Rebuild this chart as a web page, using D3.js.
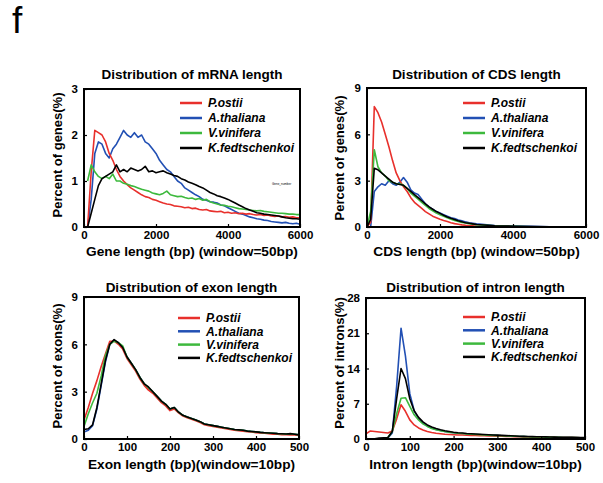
<!DOCTYPE html>
<html>
<head>
<meta charset="utf-8">
<script src="https://cdn.jsdelivr.net/npm/d3@7"></script>
<style>
  body { margin: 0; background: #fff; }
  svg { font-family: Arial, "Liberation Sans", sans-serif; }
</style>
</head>
<body>
<div id="chart"></div>
<script>
// species / legend
const species = ["P.ostii", "A.thaliana", "V.vinifera", "K.fedtschenkoi"];
const colors = ["#e8302c", "#2250b4", "#3db93d", "#000000"];

// mRNA length (window 50bp)
const mrnaX = [0,100,200,300,400,500,600,700,800,900,1000,1100,1200,1300,1400,1500,1600,1700,1800,1900,2000,
  2100,2200,2300,2400,2500,2600,2700,2800,2900,3000,3100,3200,3300,3400,3500,3600,3700,3800,3900,4000,
  4100,4200,4300,4400,4500,4600,4700,4800,4900,5000,5100,5200,5300,5400,5500,5600,5700,5800,5900,6000];
const mrnaPostii = [0,0,1.2,2.1,2.05,2.0,1.85,1.6,1.45,1.25,1.1,1.0,0.92,0.85,0.8,0.75,0.7,0.66,0.64,0.6,0.58,
  0.55,0.52,0.5,0.49,0.46,0.45,0.44,0.42,0.43,0.4,0.41,0.38,0.37,0.38,0.35,0.34,0.33,0.34,0.31,0.32,
  0.3,0.31,0.29,0.3,0.28,0.29,0.27,0.26,0.27,0.25,0.26,0.24,0.23,0.24,0.22,0.23,0.21,0.22,0.2,0.2];
const mrnaAthal = [0,0,0.6,1.6,1.85,1.8,1.6,1.5,1.7,1.8,1.95,2.1,2.0,1.95,2.05,1.95,2.0,1.85,1.8,1.7,1.6,
  1.45,1.35,1.25,1.2,1.1,1.0,0.95,0.85,0.8,0.75,0.7,0.66,0.6,0.58,0.55,0.54,0.52,0.48,0.46,0.42,
  0.38,0.34,0.3,0.28,0.25,0.22,0.2,0.18,0.17,0.15,0.14,0.12,0.11,0.1,0.09,0.1,0.08,0.07,0.08,0.06];
const mrnaVvin = [null,1.0,1.35,1.2,1.1,1.05,1.1,1.05,1.15,1.0,1.0,0.95,0.93,0.9,0.88,0.85,0.82,0.8,0.78,0.74,0.72,
  0.7,0.73,0.78,0.7,0.68,0.66,0.67,0.64,0.62,0.63,0.6,0.62,0.58,0.6,0.55,0.52,0.5,0.48,0.47,0.45,
  0.44,0.42,0.4,0.39,0.38,0.37,0.36,0.35,0.36,0.34,0.33,0.32,0.31,0.3,0.3,0.29,0.28,0.28,0.27,0.27];
const mrnaKfed = [0,0,0.3,0.6,0.9,1.05,1.1,1.15,1.2,1.35,1.2,1.25,1.2,1.28,1.25,1.22,1.25,1.32,1.2,1.22,1.18,
  1.2,1.22,1.18,1.15,1.12,1.1,1.05,1.02,0.98,0.95,0.92,0.88,0.85,0.8,0.75,0.72,0.68,0.66,0.63,0.6,
  0.56,0.52,0.48,0.44,0.4,0.37,0.34,0.31,0.3,0.28,0.27,0.26,0.25,0.24,0.22,0.2,0.19,0.18,0.18,0.17];

// CDS length (window 50bp)
const cdsX = [0,100,200,300,400,500,600,700,800,900,1000,1100,1200,1300,1400,1500,1600,1700,1800,1900,2000,
  2100,2200,2300,2400,2500,2600,2700,2800,2900,3000,3500,4000,4500,5000,5500,6000];
const cdsPostii = [0,0.3,7.8,7.4,6.8,6.0,5.2,4.3,3.5,3.0,2.6,2.3,1.9,1.6,1.4,1.2,1.0,0.85,0.7,0.6,0.5,
  0.42,0.35,0.28,0.22,0.18,0.14,0.11,0.09,0.07,0.05,0.03,0.02,0.01,0.01,0,0];
const cdsAthal = [0,0,2.3,2.6,2.8,2.7,3.0,2.8,2.7,2.9,3.2,2.9,2.4,2.2,2.1,1.8,1.5,1.3,1.15,1.0,0.9,
  0.8,0.7,0.6,0.55,0.45,0.4,0.33,0.28,0.24,0.2,0.1,0.06,0.04,0.02,0.01,0];
const cdsVvin = [0,1.0,5.0,3.9,3.5,3.3,3.0,2.9,2.8,2.8,2.7,2.5,2.2,2.0,1.8,1.6,1.4,1.2,1.05,0.9,0.8,
  0.7,0.6,0.5,0.42,0.36,0.3,0.26,0.22,0.18,0.15,0.08,0.04,0.02,0.01,0.01,0];
const cdsKfed = [0,0.5,3.8,3.7,3.5,3.3,3.1,2.9,2.8,2.75,2.7,2.5,2.3,2.1,1.9,1.7,1.5,1.3,1.15,1.0,0.88,
  0.76,0.65,0.56,0.48,0.4,0.34,0.28,0.24,0.2,0.16,0.08,0.05,0.03,0.02,0.01,0];

// exon length (window 10bp)
const exonX = [0,10,20,30,40,50,60,70,80,90,100,110,120,130,140,150,160,170,180,190,200,
  210,220,230,240,250,260,270,280,290,300,310,320,330,340,350,360,370,380,390,400,
  410,420,430,440,450,460,470,480,490,500];
const exonPostii = [1.2,2.0,2.9,3.7,4.6,5.4,6.2,6.2,6.0,5.7,5.1,4.7,4.3,3.8,3.4,3.1,2.9,2.6,2.3,2.1,1.8,
  1.9,1.65,1.45,1.35,1.25,1.15,1.05,0.9,0.85,0.8,0.75,0.7,0.65,0.6,0.55,0.52,0.5,0.46,0.44,0.4,
  0.38,0.36,0.33,0.31,0.3,0.28,0.27,0.26,0.25,0.22];
const exonAthal = [0.45,0.55,0.85,1.9,3.4,4.9,6.0,6.25,6.1,5.8,5.2,4.8,4.4,3.9,3.5,3.2,3.0,2.7,2.4,2.2,1.9,
  2.0,1.7,1.5,1.4,1.3,1.2,1.1,0.95,0.9,0.85,0.8,0.75,0.7,0.65,0.6,0.58,0.55,0.5,0.48,0.45,
  0.42,0.4,0.38,0.36,0.34,0.33,0.32,0.33,0.3,0.26];
const exonVvin = [0.8,1.6,2.3,2.9,4.0,5.3,6.0,6.2,6.1,5.9,5.2,4.8,4.4,3.9,3.5,3.25,3.0,2.7,2.4,2.2,1.9,
  2.0,1.7,1.5,1.4,1.3,1.2,1.1,0.95,0.9,0.85,0.8,0.75,0.7,0.65,0.6,0.58,0.55,0.5,0.48,0.45,
  0.42,0.4,0.38,0.36,0.34,0.33,0.32,0.33,0.3,0.26];
const exonKfed = [0.6,0.65,0.9,2.0,3.5,5.0,6.0,6.3,6.1,5.8,5.2,4.8,4.4,3.9,3.5,3.3,3.0,2.7,2.4,2.2,1.9,
  2.0,1.7,1.5,1.4,1.3,1.2,1.1,0.95,0.9,0.85,0.8,0.75,0.7,0.65,0.6,0.58,0.55,0.5,0.48,0.45,
  0.42,0.4,0.38,0.36,0.34,0.33,0.32,0.34,0.3,0.26];

// intron length (window 10bp)
const intronX = exonX;
const intronPostii = [1.0,1.6,1.5,1.4,1.3,1.2,1.6,4.0,6.8,5.5,3.8,2.8,2.2,1.8,1.5,1.3,1.15,1.05,0.95,0.9,0.85,
  0.8,0.78,0.75,0.72,0.7,0.68,0.65,0.62,0.6,0.58,0.55,0.52,0.5,0.48,0.45,0.43,0.41,0.4,0.38,0.36,
  0.35,0.34,0.32,0.31,0.3,0.29,0.28,0.27,0.26,0.25];
const intronAthal = [0,0,0,0.05,0.1,0.2,1.2,10.5,22.0,16.5,9.0,5.6,4.1,3.2,2.6,2.2,1.9,1.7,1.5,1.35,1.25,
  1.15,1.1,1.0,0.95,0.9,0.85,0.8,0.75,0.72,0.68,0.64,0.6,0.57,0.54,0.5,0.48,0.45,0.43,0.41,0.4,
  0.38,0.36,0.34,0.32,0.3,0.29,0.28,0.27,0.26,0.25];
const intronVvin = [0,0,0,0,0.05,0.3,1.5,5.0,8.1,8.2,6.5,4.8,3.8,3.0,2.5,2.1,1.85,1.65,1.5,1.35,1.25,
  1.15,1.1,1.02,0.96,0.9,0.86,0.8,0.76,0.72,0.68,0.64,0.6,0.57,0.54,0.5,0.48,0.45,0.43,0.41,0.4,
  0.38,0.36,0.34,0.32,0.3,0.29,0.28,0.27,0.26,0.25];
const intronKfed = [0,0,0.05,0.2,0.25,0.3,1.5,8.0,14.0,12.0,8.0,5.6,4.3,3.4,2.8,2.4,2.1,1.85,1.65,1.5,1.35,
  1.25,1.18,1.1,1.05,1.0,0.95,0.9,0.85,0.8,0.76,0.72,0.68,0.64,0.6,0.56,0.53,0.5,0.48,0.46,0.44,
  0.42,0.4,0.38,0.36,0.34,0.33,0.32,0.31,0.3,0.29];

const panels = [
  { title: "Distribution of mRNA length", xlab: "Gene length (bp) (window=50bp)", ylab: "Percent of genes(%)",
    x: mrnaX, series: [mrnaPostii, mrnaAthal, mrnaVvin, mrnaKfed], xmax: 6000, xticks: [0, 2000, 4000, 6000],
    ymax: 3, yticks: [0, 1, 2, 3], box: [84, 89, 300, 227], legend: [180, 103, 15],
    titleY: 79, xlabY: 256, ylabX: 62, ylabY: 155, note: true },
  { title: "Distribution of CDS length", xlab: "CDS length (bp) (window=50bp)", ylab: "Percent of genes(%)",
    x: cdsX, series: [cdsPostii, cdsAthal, cdsVvin, cdsKfed], xmax: 6000, xticks: [0, 2000, 4000, 6000],
    ymax: 9, yticks: [0, 3, 6, 9], box: [367, 88, 586, 227], legend: [463, 103, 15],
    titleY: 79, xlabY: 256, ylabX: 344, ylabY: 158 },
  { title: "Distribution of exon length", xlab: "Exon length (bp)(window=10bp)", ylab: "Percent of exons(%)",
    x: exonX, series: [exonPostii, exonAthal, exonVvin, exonKfed], xmax: 500, xticks: [0, 100, 200, 300, 400, 500],
    ymax: 9, yticks: [0, 3, 6, 9], box: [84, 297, 299, 439], legend: [178, 318, 13.3],
    titleY: 292, xlabY: 469, ylabX: 62, ylabY: 366 },
  { title: "Distribution of intron length", xlab: "Intron length (bp)(window=10bp)", ylab: "Percent of introns(%)",
    x: intronX, series: [intronPostii, intronAthal, intronVvin, intronKfed], xmax: 500, xticks: [0, 100, 200, 300, 400, 500],
    ymax: 28, yticks: [0, 7, 14, 21, 28], box: [366, 298, 585, 439], legend: [463, 317, 13.3],
    titleY: 292, xlabY: 469, ylabX: 344, ylabY: 363 }
];

const width = 603, height = 483;
const svg = d3.select("#chart").append("svg")
  .attr("width", width)
  .attr("height", height);

svg.append("text")
  .attr("x", 12)
  .attr("y", 33)
  .style("font-size", "37px")
  .text("f");

panels.forEach(function(p) {
  const [x0, y0, x1, y1] = p.box;
  const x = d3.scaleLinear().domain([0, p.xmax]).range([x0, x1]);
  const y = d3.scaleLinear().domain([0, p.ymax]).range([y1, y0]);
  const g = svg.append("g");

  // series lines, black drawn on top
  const line = d3.line()
    .defined(d => d[1] != null)
    .x(d => x(d[0]))
    .y(d => y(d[1]));
  [1, 0, 2, 3].forEach(function(i) {
    g.append("path")
      .datum(p.x.map((v, k) => [v, p.series[i][k]]))
      .attr("d", line)
      .attr("fill", "none")
      .attr("stroke", colors[i])
      .attr("stroke-width", 1.6)
      .attr("stroke-linejoin", "round");
  });

  // axes, ticks pointing inward
  const xAxis = g.append("g")
    .attr("transform", "translate(0," + y1 + ")")
    .call(d3.axisBottom(x).tickValues(p.xticks).tickFormat(d3.format("d")).tickSize(-3).tickPadding(4));
  const yAxis = g.append("g")
    .attr("transform", "translate(" + x0 + ",0)")
    .call(d3.axisLeft(y).tickValues(p.yticks).tickFormat(d3.format("d")).tickSize(-3).tickPadding(6));
  [xAxis, yAxis].forEach(function(a) {
    a.select(".domain").remove();
    a.selectAll("line").attr("stroke", "#000").attr("stroke-width", 1.2);
    a.selectAll("text")
      .style("font-size", "11.5px")
      .style("font-weight", "bold")
      .attr("fill", "#000");
  });

  // frame
  g.append("rect")
    .attr("x", x0)
    .attr("y", y0)
    .attr("width", x1 - x0)
    .attr("height", y1 - y0)
    .attr("fill", "none")
    .attr("stroke", "#000")
    .attr("stroke-width", 2);

  // titles
  g.append("text")
    .attr("x", (x0 + x1) / 2)
    .attr("y", p.titleY)
    .attr("text-anchor", "middle")
    .style("font-size", "13.5px")
    .style("font-weight", "bold")
    .text(p.title);
  g.append("text")
    .attr("x", (x0 + x1) / 2)
    .attr("y", p.xlabY)
    .attr("text-anchor", "middle")
    .style("font-size", "13.7px")
    .style("font-weight", "bold")
    .text(p.xlab);
  g.append("text")
    .attr("transform", "translate(" + p.ylabX + "," + p.ylabY + ") rotate(-90)")
    .attr("text-anchor", "middle")
    .style("font-size", "13px")
    .style("font-weight", "bold")
    .text(p.ylab);

  // legend
  const [lx, ly, ls] = p.legend;
  const leg = g.selectAll(".legend")
    .data(species)
    .enter().append("g")
    .attr("transform", (d, i) => "translate(" + lx + "," + (ly + i * ls) + ")");
  leg.append("line")
    .attr("x1", 0).attr("x2", 22)
    .attr("stroke", (d, i) => colors[i])
    .attr("stroke-width", 2.5);
  leg.append("text")
    .attr("x", 28)
    .attr("dy", "0.35em")
    .style("font-size", "12px")
    .style("font-weight", "bold")
    .style("font-style", "italic")
    .text(d => d);

  if (p.note) {
    g.append("text")
      .attr("x", 272)
      .attr("y", 185)
      .style("font-size", "3px")
      .text("Gene_number");
  }
});
</script>
</body>
</html>
